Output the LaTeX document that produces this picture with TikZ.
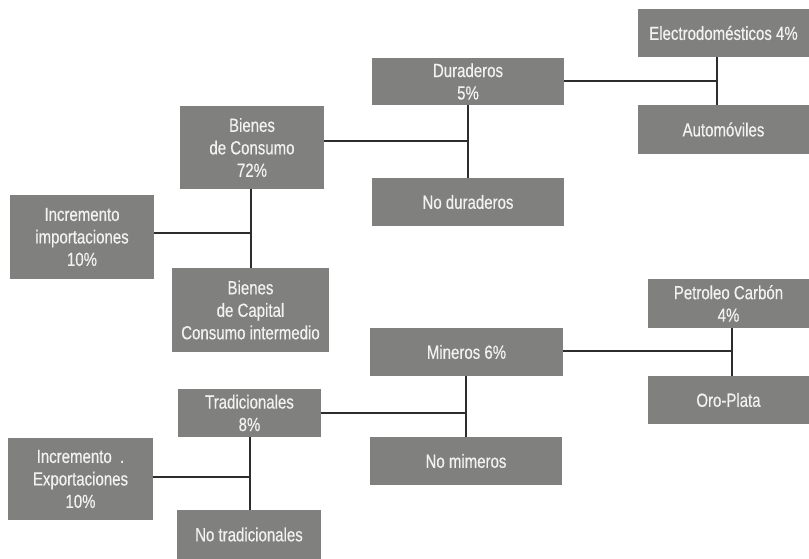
\documentclass[tikz,border=0pt]{standalone}
\usepackage{fontspec}
\setmainfont{Liberation Sans}[FakeStretch=0.79, FakeBold=0.4]
\definecolor{boxgray}{RGB}{128,129,127}
\definecolor{boxtext}{RGB}{242,242,242}
\definecolor{linkgray}{RGB}{45,45,45}
\tikzset{
  cell/.style={fill=boxgray, text=boxtext, align=center, inner sep=0pt,
    font=\fontsize{19}{22.5}\selectfont},
  link/.style={draw=linkgray, line width=1.2pt}
}
% place a box by its corners: left, top, right, bottom (pt, y downward)
\newcommand{\cellbox}[6]{%
  \node[cell, minimum width={#4-#2}, minimum height={#5-#3}]
    (#1) at ({(#2+#4)/2},{(#3+#5)/2}) {#6};}
\begin{document}
\begin{tikzpicture}[x=1pt, y=-1pt]
\useasboundingbox (0,0) rectangle (809,559);

% boxes
\cellbox{elec}{638}{9}{809}{57}{Electrodomésticos 4\%}
\cellbox{dur}{372}{58}{564}{105}{Duraderos\\5\%}
\cellbox{auto}{638}{105}{809}{154}{Automóviles}
\cellbox{bcons}{180}{106}{324}{189}{Bienes\\de Consumo\\72\%}
\cellbox{nodur}{372}{178}{564}{226}{No duraderos}
\cellbox{imp}{10}{195}{154}{279}{Incremento\\importaciones\\10\%}
\cellbox{bcap}{172}{268}{329}{352}{Bienes\\de Capital\\Consumo intermedio}
\cellbox{petro}{648}{279}{809}{328}{Petroleo Carbón\\4\%}
\cellbox{min}{370}{328}{563}{376}{Mineros 6\%}
\cellbox{oro}{648}{376}{809}{424}{Oro-Plata}
\cellbox{trad}{178}{389}{321}{437}{Tradicionales\\8\%}
\cellbox{nomin}{370}{437}{562}{485}{No mimeros}
\cellbox{exp}{8}{438}{153}{520}{Incremento\ \ .\\Exportaciones\\10\%}
\cellbox{notrad}{177}{510}{321}{559}{No tradicionales}

% junction points
\coordinate (jdur) at (717,81);
\coordinate (jcons) at (468,141);
\coordinate (jcap) at (251,233);
\coordinate (jmin) at (732,351);
\coordinate (jnomin) at (466,413);
\coordinate (jtrad) at (250,477);

% connectors
\draw[link] (dur.east |- jdur) -- (jdur);
\draw[link] (elec.south -| jdur) -- (auto.north -| jdur);
\draw[link] (dur.south -| jcons) -- (nodur.north -| jcons);
\draw[link] (bcons.east |- jcons) -- (jcons);
\draw[link] (bcons.south -| jcap) -- (bcap.north -| jcap);
\draw[link] (imp.east |- jcap) -- (jcap);
\draw[link] (min.east |- jmin) -- (jmin);
\draw[link] (petro.south -| jmin) -- (oro.north -| jmin);
\draw[link] (min.south -| jnomin) -- (nomin.north -| jnomin);
\draw[link] (trad.east |- jnomin) -- (jnomin);
\draw[link] (trad.south -| jtrad) -- (notrad.north -| jtrad);
\draw[link] (exp.east |- jtrad) -- (jtrad);
\end{tikzpicture}
\end{document}
